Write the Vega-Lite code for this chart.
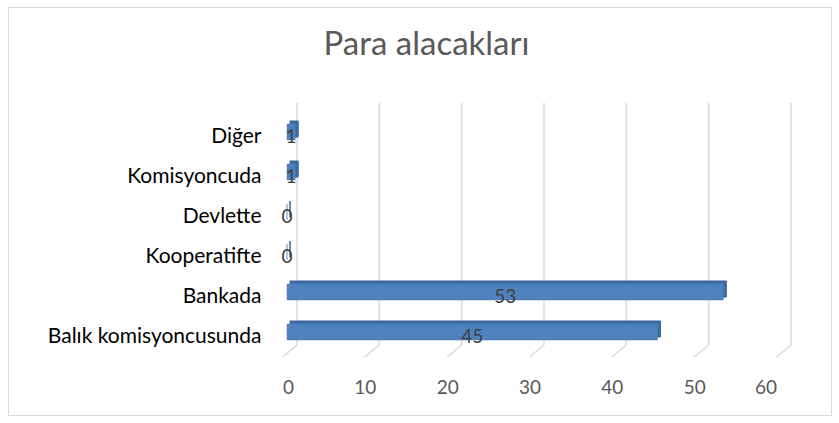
{
  "$schema": "https://vega.github.io/schema/vega-lite/v6.json",
  "width": 823,
  "height": 408,
  "autosize": {"type": "none"},
  "padding": {"left": 8, "top": 7, "right": 8, "bottom": 8},
  "background": "#ffffff",
  "config": {
    "view": {"stroke": "#D9D9D9", "strokeWidth": 1},
    "font": "Lato"
  },
  "title": {
    "text": "Para alacakları",
    "font": "Lato",
    "fontSize": 33,
    "fontWeight": "normal",
    "color": "#595959",
    "anchor": "middle",
    "dx": 7,
    "offset": -55
  },
  "datasets": {
    "main": [
      {"kategori": "Diğer", "deger": 1},
      {"kategori": "Komisyoncuda", "deger": 1},
      {"kategori": "Devlette", "deger": 0},
      {"kategori": "Kooperatifte", "deger": 0},
      {"kategori": "Bankada", "deger": 53},
      {"kategori": "Balık komisyoncusunda", "deger": 45}
    ],
    "grid": [
      {"v": 0}, {"v": 10}, {"v": 20}, {"v": 30}, {"v": 40}, {"v": 50}, {"v": 60}
    ]
  },
  "layer": [
    {
      "data": {"name": "grid"},
      "mark": {"type": "rule", "xOffset": 10, "color": "#D9D9D9", "strokeWidth": 1.5},
      "encoding": {
        "x": {"field": "v", "type": "quantitative"},
        "y": {"value": 96},
        "y2": {"value": 338}
      }
    },
    {
      "data": {"name": "grid"},
      "mark": {"type": "rule", "xOffset": 10, "x2Offset": -4.5, "color": "#D9D9D9", "strokeWidth": 1.5},
      "encoding": {
        "x": {"field": "v", "type": "quantitative"},
        "x2": {"field": "v"},
        "y": {"value": 338},
        "y2": {"value": 350}
      }
    },
    {
      "data": {"name": "main"},
      "mark": {"type": "bar", "size": 16, "xOffset": 3, "yOffset": -8, "color": "#3F6CA3", "stroke": "#3A639A", "strokeWidth": 1},
      "encoding": {
        "y": {"field": "kategori", "type": "nominal", "sort": ["Diğer", "Komisyoncuda", "Devlette", "Kooperatifte", "Bankada", "Balık komisyoncusunda"]},
        "x": {"field": "deger", "type": "quantitative"}
      }
    },
    {
      "data": {"name": "main"},
      "mark": {"type": "bar", "size": 16, "yOffset": -5, "color": "#4F81BD", "stroke": "#4A7BB5", "strokeWidth": 0.5},
      "encoding": {
        "y": {
          "field": "kategori",
          "type": "nominal",
          "sort": ["Diğer", "Komisyoncuda", "Devlette", "Kooperatifte", "Bankada", "Balık komisyoncusunda"],
          "scale": {"range": [110, 350], "paddingInner": 0, "paddingOuter": 0},
          "axis": {
            "title": null,
            "domain": false,
            "ticks": false,
            "labelPadding": 0,
            "offset": -253,
            "labelLimit": 400,
            "labelFont": "Lato",
            "labelFontSize": 21,
            "labelColor": "#000000"
          }
        },
        "x": {
          "field": "deger",
          "type": "quantitative",
          "scale": {"domain": [0, 60], "range": [279, 773], "nice": false},
          "axis": {
            "title": null,
            "values": [0, 10, 20, 30, 40, 50, 60],
            "grid": false,
            "domain": false,
            "ticks": false,
            "labelPadding": 0,
            "offset": -37,
            "labelOffset": -4.5,
            "labelFont": "Lato",
            "labelFontSize": 19,
            "labelColor": "#595959"
          }
        }
      }
    },
    {
      "data": {"name": "main"},
      "mark": {"type": "text", "fontSize": 19, "font": "Lato", "color": "#404040", "baseline": "middle", "align": "center"},
      "encoding": {
        "y": {"field": "kategori", "type": "nominal", "sort": ["Diğer", "Komisyoncuda", "Devlette", "Kooperatifte", "Bankada", "Balık komisyoncusunda"]},
        "x": {"field": "deger", "type": "quantitative", "stack": "zero", "bandPosition": 0.5},
        "text": {"field": "deger", "type": "quantitative"}
      }
    }
  ]
}
